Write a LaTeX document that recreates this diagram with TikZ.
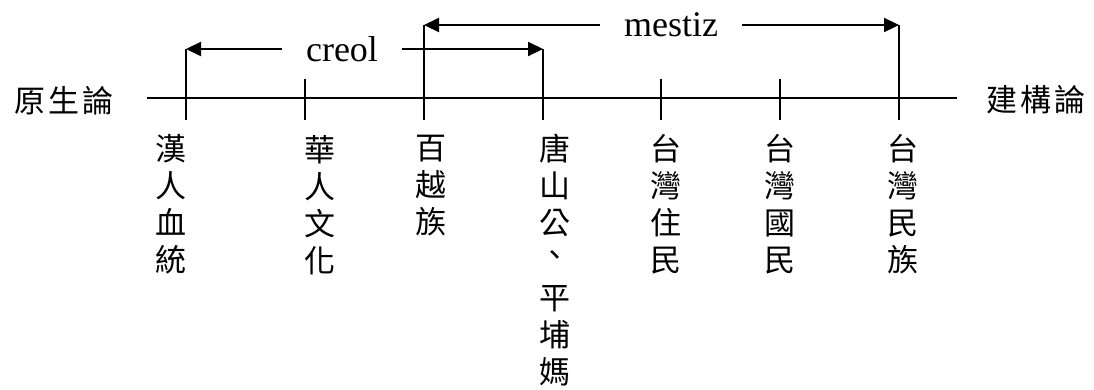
\documentclass[tikz,border=0pt]{standalone}
\usepackage{fontspec}
\setmainfont{Liberation Serif}
\newfontfamily\cjk{Noto Sans CJK TC}
\usetikzlibrary{arrows.meta}
\begin{document}
\begin{tikzpicture}[x=1bp,y=-1bp,line width=2.2bp,
  vlab/.style={font=\cjk\fontsize{31bp}{37.2bp}\selectfont,align=center,anchor=north,inner sep=0pt},
  hlab/.style={font=\cjk\fontsize{31bp}{37bp}\selectfont,inner sep=0pt},
  span/.style={font=\fontsize{36bp}{40bp}\selectfont,fill=white,inner xsep=23bp,inner ysep=0pt},
  arr/.style={-{Triangle[length=15bp,width=14bp]}}]
\useasboundingbox (0,0) rectangle (1094,389);
% axis
\coordinate (axL) at (147,97.7);
\coordinate (axR) at (957,97.7);
\draw (axL) -- (axR);
\node[hlab] (left) at (64,101) {原\kern3bp 生\kern3bp 論};
\node[hlab] (right) at (1036,100) {建\kern3bp 構\kern3bp 論};
% ticks
\coordinate (t1top) at (186,49);  \coordinate (t1bot) at (186,120);
\coordinate (t2top) at (305,79);  \coordinate (t2bot) at (305,120);
\coordinate (t3top) at (424,25);  \coordinate (t3bot) at (424,120);
\coordinate (t4top) at (543,49);  \coordinate (t4bot) at (543,120);
\coordinate (t5top) at (661,79);  \coordinate (t5bot) at (661,120);
\coordinate (t6top) at (780,79);  \coordinate (t6bot) at (780,120);
\coordinate (t7top) at (899,25);  \coordinate (t7bot) at (899,120);
\foreach \i in {1,...,7} {\draw (t\i top) -- (t\i bot);}
% spans
\node[span] (creol) at (342,49) {creol};
\node[span] (mestiz) at (671,25) {mestiz};
\draw[arr] (creol.west) -- (t1top);
\draw[arr] (creol.east) -- (t4top);
\draw[arr] (mestiz.west) -- (t3top);
\draw[arr] (mestiz.east) -- (t7top);
% labels
\node[vlab] (l1) at (171,133) {漢\\人\\血\\統};
\node[vlab] (l2) at (320,134) {華\\人\\文\\化};
\node[vlab] (l3) at (431,134) {百\\越\\族};
\node[vlab] (l4) at (555,133) {唐\\山\\公\\\raisebox{6bp}{、}\\平\\埔\\媽};
\node[vlab] (l5) at (666,133) {台\\灣\\住\\民};
\node[vlab] (l6) at (780,133) {台\\灣\\國\\民};
\node[vlab] (l7) at (903,133) {台\\灣\\民\\族};
\end{tikzpicture}
\end{document}
